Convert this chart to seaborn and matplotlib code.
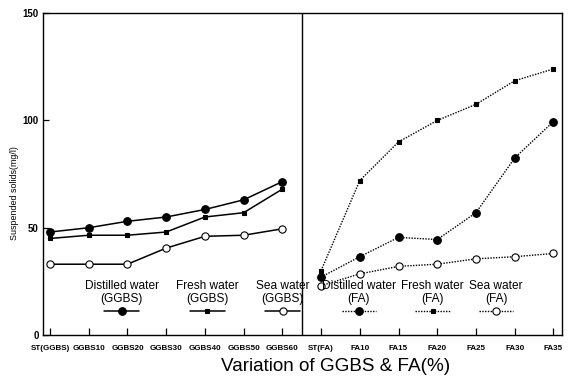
import numpy as np
import pandas as pd
import matplotlib
matplotlib.use("Agg")
import matplotlib.pyplot as plt
import seaborn as sns
from matplotlib.lines import Line2D
from matplotlib.offsetbox import VPacker

# ---------------- data ----------------
ggbs_cats = ["ST(GGBS)", "GGBS10", "GGBS20", "GGBS30", "GGBS40", "GGBS50", "GGBS60"]
fa_cats = ["ST(FA)", "FA10", "FA15", "FA20", "FA25", "FA30", "FA35"]
categories = ggbs_cats + fa_cats

ggbs_distilled = [48, 50, 53, 55, 58.5, 63, 71.5]
ggbs_fresh = [45, 46.5, 46.5, 48, 55, 57, 68]
ggbs_sea = [33, 33, 33, 40.5, 46, 46.5, 49.5]

fa_distilled = [27, 36.5, 45.5, 44.5, 57, 82.5, 99.5]
fa_fresh = [30, 72, 90, 100, 107.5, 118.5, 124]
fa_sea = [23, 28.5, 32, 33, 35.5, 36.5, 38]

y_ticks = [0, 50, 100, 150]

# --------------- styling ---------------
sns.set_theme(style="white")
plt.rcParams["font.family"] = ["Liberation Sans", "DejaVu Sans"]
plt.rcParams["text.color"] = "black"
plt.rcParams["axes.labelcolor"] = "black"
plt.rcParams["xtick.color"] = "black"
plt.rcParams["ytick.color"] = "black"
plt.rcParams["legend.labelcolor"] = "black"
tick_fam = ["Liberation Sans", "DejaVu Sans"]

fig = plt.figure(figsize=(5.69, 3.76), dpi=100)
ax = fig.add_axes([0.0756, 0.109, 0.912, 0.856])

pos = {c: i for i, c in enumerate(categories)}

def draw(cats, vals, ls, lw, marker, ms, mfc, label):
    df = pd.DataFrame({"x": [pos[c] for c in cats], "y": vals})
    sns.lineplot(data=df, x="x", y="y", ax=ax, color="black", linestyle=ls,
                 linewidth=lw, marker=marker, markersize=ms,
                 markerfacecolor=mfc, markeredgecolor="black",
                 markeredgewidth=0.8, sort=False, label=label, legend=False)

dotted = (0, (1, 1))
styles = {
    "Distilled": dict(marker="o", ms=5.5, mfc="black"),
    "Fresh": dict(marker="s", ms=2.4, mfc="black"),
    "Sea": dict(marker="o", ms=5.2, mfc="white"),
}

series = [
    (ggbs_cats, ggbs_distilled, "-", 1.1, "Distilled", "Distilled water\n(GGBS)"),
    (ggbs_cats, ggbs_fresh, "-", 1.1, "Fresh", "Fresh water\n(GGBS)"),
    (ggbs_cats, ggbs_sea, "-", 1.1, "Sea", "Sea water\n(GGBS)"),
    (fa_cats, fa_distilled, dotted, 1.0, "Distilled", "Distilled water\n(FA)"),
    (fa_cats, fa_fresh, dotted, 1.0, "Fresh", "Fresh water\n(FA)"),
    (fa_cats, fa_sea, dotted, 1.0, "Sea", "Sea water\n(FA)"),
]
handles = []
for cats, vals, ls, lw, kind, label in series:
    st = styles[kind]
    draw(cats, vals, ls, lw, st["marker"], st["ms"], st["mfc"], label)
    handles.append(Line2D([], [], color="black", linestyle=ls, linewidth=lw,
                          marker=st["marker"], markersize=st["ms"],
                          markerfacecolor=st["mfc"], markeredgecolor="black",
                          markeredgewidth=0.8))

# divider between GGBS and FA groups
ax.axvline(len(ggbs_cats) - 0.5, color="black", linewidth=1.0)

ax.set_xlim(-0.18, len(categories) - 1 + 0.22)
ax.set_ylim(0, 150)
ax.set_xticks(range(len(categories)))
ax.set_xticklabels(categories, fontfamily=tick_fam, fontweight="bold",
                   fontsize=5.8, color="black")
ax.set_yticks(y_ticks)
ax.set_yticklabels([str(v) for v in y_ticks], fontfamily=tick_fam,
                   fontweight="bold", fontsize=7, color="black")
ax.tick_params(axis="x", direction="in", length=5, width=0.9, color="black",
               pad=7, bottom=True)
ax.tick_params(axis="y", direction="in", length=4, width=0.9, color="black",
               pad=3, left=True)
for sp in ax.spines.values():
    sp.set_visible(True)
    sp.set_color("black")
    sp.set_linewidth(1.0)

ax.set_xlabel("Variation of GGBS & FA(%)", fontsize=13.6, labelpad=3,
              color="black")
ax.xaxis.set_label_coords(0.563, -0.07)
ax.xaxis.label.set_va("top")
ax.set_ylabel("Suspended solids(mg/l)", fontfamily=tick_fam, fontsize=6.4,
              color="black")
ax.yaxis.set_label_coords(-0.046, 0.44)


def label_above_legend(hs, labels, anchor, colsp):
    leg = ax.legend(hs, labels, ncol=len(hs), loc="upper center",
                    bbox_to_anchor=anchor, frameon=False, handlelength=2.9,
                    columnspacing=colsp, borderpad=0, handletextpad=0.2,
                    labelcolor="black",
                    prop={"family": "Liberation Sans", "size": 8.6})
    for t in leg.get_texts():
        t.set_multialignment("center")
        t.set_color("black")
    hbox = leg._legend_handle_box
    for col in hbox.get_children():
        new = []
        for item in col.get_children():
            h, t = item.get_children()
            new.append(VPacker(pad=0, sep=1, children=[t, h], align="center"))
        col._children = new
    return leg

labels = [s[5] for s in series]
leg1 = label_above_legend(handles[:3], labels[:3], (0.297, 0.191), 1.45)
ax.add_artist(leg1)
leg2 = label_above_legend(handles[3:], labels[3:], (0.731, 0.191), 0.45)

fig.savefig("out.png", dpi=100)
